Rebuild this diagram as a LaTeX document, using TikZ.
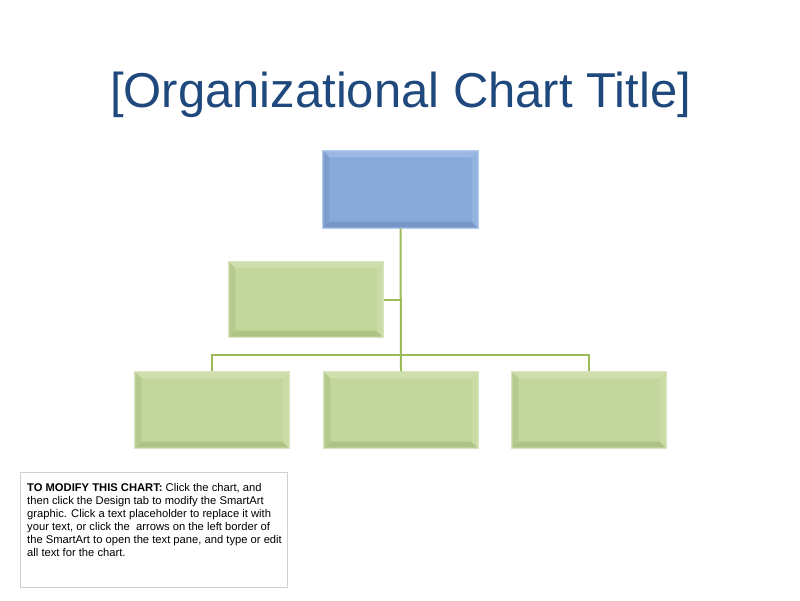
\documentclass[tikz,border=0pt]{standalone}
\usepackage{fontspec}
\setmainfont{Liberation Sans}
\usetikzlibrary{calc}
\definecolor{titleblue}{HTML}{1F497D}
\definecolor{bluefill}{HTML}{87A9DA}
\definecolor{blueedge}{HTML}{B3CBEC}
\definecolor{bluelight}{HTML}{9AB8E2}
\definecolor{bluedark}{HTML}{7795C6}
\definecolor{greenfill}{HTML}{C3D69B}
\definecolor{greenedge}{HTML}{D7E4BD}
\definecolor{greenlight}{HTML}{CFDEAB}
\definecolor{greendark}{HTML}{AEC284}
\definecolor{lineg}{HTML}{9BBB59}
\definecolor{noteedge}{HTML}{D0D0D0}
\tikzset{
  orgbox/.style={draw=#1edge, fill=#1fill, line width=1.2pt, minimum width=154pt, minimum height=76pt, inner sep=0pt},
  conn/.style={draw=lineg, line width=2pt},
  notebox/.style={draw=noteedge, line width=0.8pt, fill=white, minimum width=267pt, minimum height=115pt, inner sep=0pt},
  notetext/.style={align=left, font=\fontsize{11.2pt}{13pt}\selectfont, anchor=base west, inner sep=0pt},
  titletext/.style={text=titleblue, font=\fontsize{49pt}{58pt}\selectfont, inner sep=0pt}
}
% bevel drawing on a named node (unitless offsets follow the flipped y axis)
\newcommand{\bevelbox}[2]{%
  \fill[#2light] ($(#1.north west)+(1,1)$) -- ($(#1.north east)+(-1,1)$) -- ($(#1.north east)+(-7,7)$) -- ($(#1.north west)+(7,7)$) -- cycle;
  \fill[#2dark!60!#2fill] ($(#1.north west)+(1,1)$) -- ($(#1.north west)+(7,7)$) -- ($(#1.south west)+(7,-7)$) -- ($(#1.south west)+(1,-1)$) -- cycle;
  \fill[#2dark] ($(#1.south west)+(1,-1)$) -- ($(#1.south west)+(7,-7)$) -- ($(#1.south east)+(-7,-7)$) -- ($(#1.south east)+(-1,-1)$) -- cycle;
  \fill[#2light!60!#2fill] ($(#1.north east)+(-1,1)$) -- ($(#1.south east)+(-1,-1)$) -- ($(#1.south east)+(-7,-7)$) -- ($(#1.north east)+(-7,7)$) -- cycle;
}
\begin{document}
\begin{tikzpicture}[x=1pt,y=-1pt]
\useasboundingbox (0,0) rectangle (800,600);
\node[titletext] (title) at (400.5,95) {[Organizational Chart Title]};

\node[orgbox=blue, minimum height=77pt, minimum width=155pt] (top) at (400.5,189.5) {};
\node[orgbox=green, minimum height=75pt] (asst) at (306,299.5) {};
\node[orgbox=green] (c1) at (212,410) {};
\node[orgbox=green] (c2) at (401,410) {};
\node[orgbox=green] (c3) at (589,410) {};
\bevelbox{top}{blue}
\bevelbox{asst}{green}
\bevelbox{c1}{green}
\bevelbox{c2}{green}
\bevelbox{c3}{green}

\coordinate (bus) at (401,355);
\coordinate (ajoin) at (401,300);
\draw[conn] (top.south) -- (c2.north);
\draw[conn] (asst.east |- ajoin) -- (ajoin);
\draw[conn] (c1.north) |- (bus) -| (c3.north);

\node[notebox] (note) at (153.5,529.5) {};
\node[notetext] (notetxt) at (27,556.5) {\textbf{TO MODIFY THIS CHART:} Click the chart, and\\
then click the Design tab to modify the SmartArt\\
graphic. Click a text placeholder to replace it with\\
your text, or click the\ \ arrows on the left border of\\
the SmartArt to open the text pane, and type or edit\\
all text for the chart.};
\end{tikzpicture}
\end{document}
